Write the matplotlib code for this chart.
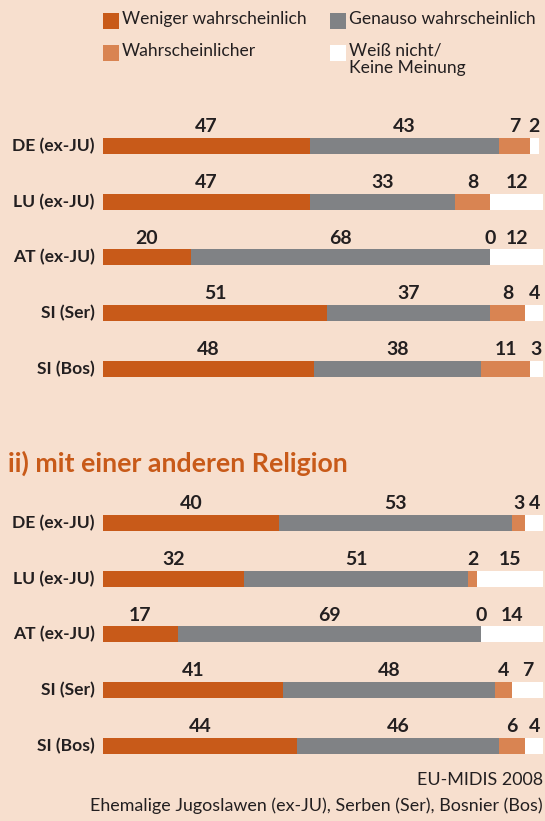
import matplotlib
matplotlib.use("Agg")
import matplotlib.pyplot as plt
from matplotlib.patches import Rectangle
import numpy as np

plt.rcParams['font.family'] = ['Lato', 'DejaVu Sans']

# Survey data (percent)
groups = ["DE (ex-JU)", "LU (ex-JU)", "AT (ex-JU)", "SI (Ser)", "SI (Bos)"]
series_names = ["Weniger wahrscheinlich", "Genauso wahrscheinlich",
                "Wahrscheinlicher", "Weiß nicht/\nKeine Meinung"]

# i) top block
top_less = [47, 47, 20, 51, 48]
top_same = [43, 33, 68, 37, 38]
top_more = [7, 8, 0, 8, 11]
top_dk = [2, 12, 12, 4, 3]

# ii) mit einer anderen Religion
bot_less = [40, 32, 17, 41, 44]
bot_same = [53, 51, 69, 48, 46]
bot_more = [3, 2, 0, 4, 6]
bot_dk = [4, 15, 14, 7, 4]

section_title = "ii) mit einer anderen Religion"
source = "EU-MIDIS 2008"
footnote = "Ehemalige Jugoslawen (ex-JU), Serben (Ser), Bosnier (Bos)"

BG = "#F7DFCE"
C_LESS = "#C85A19"
C_SAME = "#808285"
C_MORE = "#D98452"
C_DK = "#FFFFFF"
TXT = "#231F20"
colors = [C_LESS, C_SAME, C_MORE, C_DK]

W, H = 545, 821
fig = plt.figure(figsize=(W / 100, H / 100), dpi=100, facecolor=BG)


def fx(px):
    return px / W


def fy(py):
    return 1 - py / H


def draw_block(top_px, values):
    row_h = 55.75
    ax = fig.add_axes([fx(103), fy(top_px + 5 * row_h), fx(543) - fx(103), 5 * row_h / H])
    ax.set_facecolor("none")
    ax.set_xlim(0, 100)
    ax.set_ylim(4.5, -0.5)
    ax.axis("off")
    y = np.arange(len(groups))
    bar_h = 16 / row_h
    left = np.zeros(len(groups))
    for vals, col in zip(values, colors):
        vals = np.array(vals, dtype=float)
        ax.barh(y, vals, left=left, height=bar_h, color=col, edgecolor="none")
        for i, v in enumerate(vals):
            ax.annotate(f"{int(v)}", (left[i] + v / 2, i - bar_h / 2),
                        xytext=(0, 2), textcoords="offset points",
                        ha="center", va="bottom", fontsize=14,
                        fontweight="bold", color=TXT)
        left += vals
    for i, g in enumerate(groups):
        ax.annotate(g, (0, i), xytext=(-6, 0), textcoords="offset points",
                    ha="right", va="center", fontsize=12.6,
                    fontweight="bold", color=TXT, annotation_clip=False)
    return ax


draw_block(118.1, [top_less, top_same, top_more, top_dk])
draw_block(495.1, [bot_less, bot_same, bot_more, bot_dk])

# Legend
legend_pos = [(103, 13), (330, 13), (103, 45), (330, 45)]
for (lx, ly), k in zip(legend_pos, range(4)):
    fig.patches.append(Rectangle((fx(lx), fy(ly + 16)), 16 / W, 16 / H,
                                 transform=fig.transFigure, facecolor=colors[k],
                                 edgecolor="none"))
    fig.text(fx(lx + 19), fy(ly - 2), series_names[k], ha="left", va="top",
             fontsize=12.6, color=TXT, linespacing=1.05)

fig.text(fx(8), fy(463), section_title, ha="left", va="center",
         fontsize=19.3, fontweight="bold", color=C_LESS)

fig.text(fx(543), fy(780), source, ha="right", va="center", fontsize=12.9, color=TXT)
fig.text(fx(543), fy(806), footnote, ha="right", va="center", fontsize=12.9, color=TXT)

fig.savefig("out.png", dpi=100, facecolor=BG)
